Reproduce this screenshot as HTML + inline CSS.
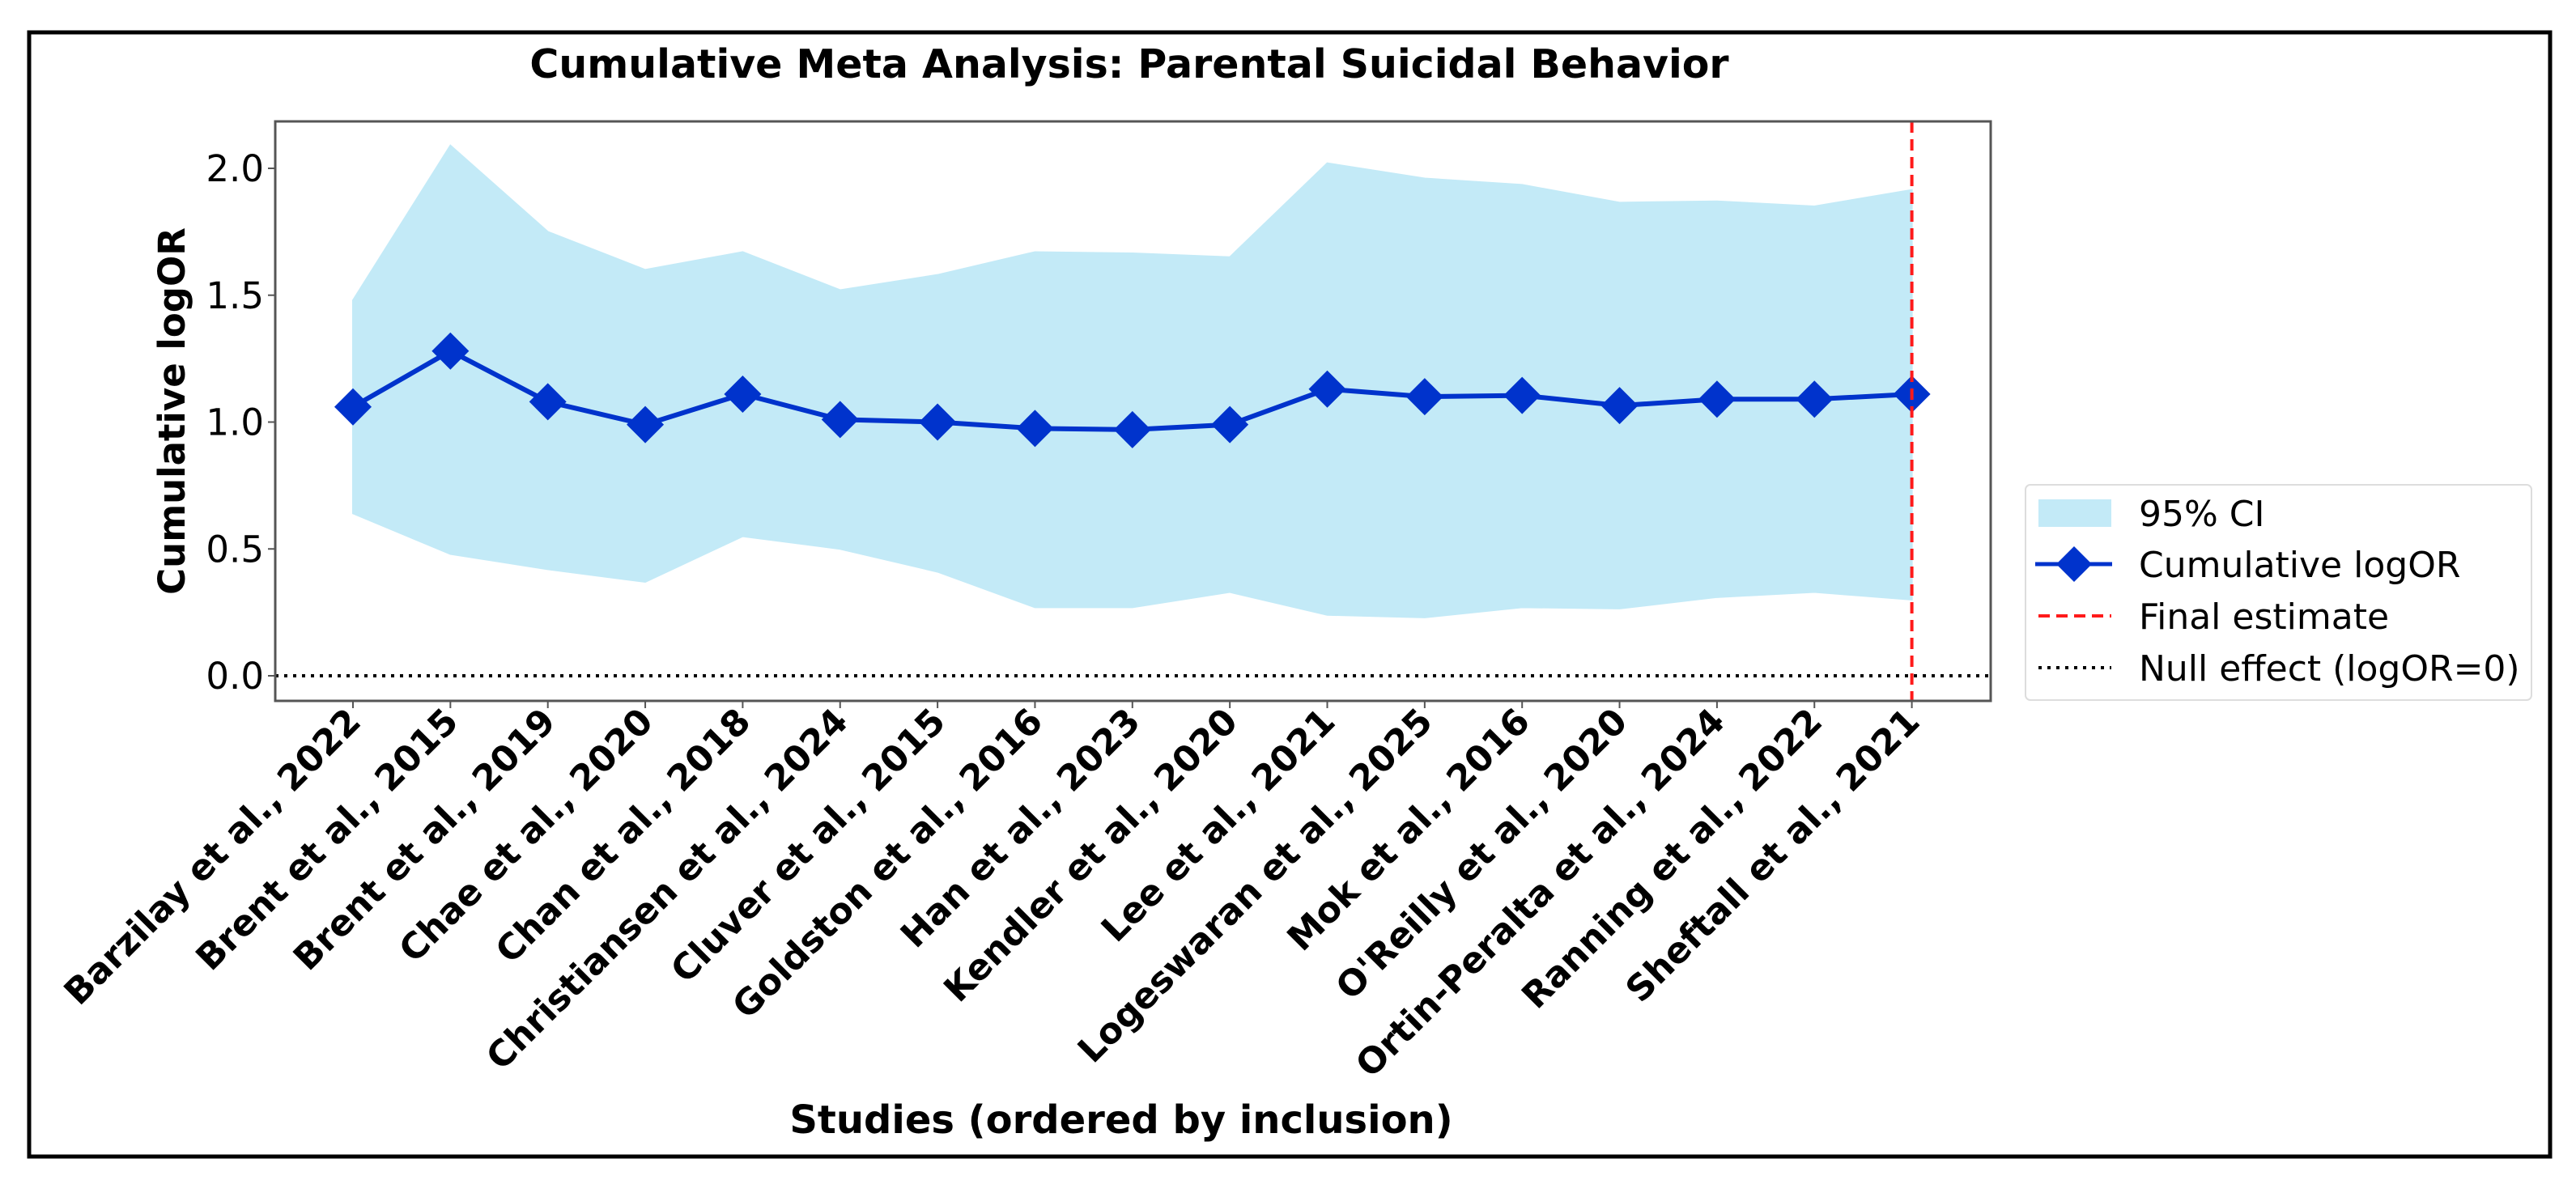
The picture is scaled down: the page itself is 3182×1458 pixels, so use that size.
<!DOCTYPE html>
<html><head><meta charset="utf-8"><style>
html,body{margin:0;padding:0;background:#fff;}
svg{display:block;font-family:"DejaVu Sans","Liberation Sans",sans-serif;}
</style></head><body>
<svg id="chart" width="3182" height="1458" viewBox="0 0 3182 1458">
<rect x="36" y="40" width="3114" height="1389" fill="#fff" stroke="#000" stroke-width="5"/>
<text x="1395" y="96" text-anchor="middle" font-size="49" font-weight="bold">Cumulative Meta Analysis: Parental Suicidal Behavior</text>
<g id="plot"></g>
<text transform="translate(228,508) rotate(-90)" text-anchor="middle" font-size="45" font-weight="bold">Cumulative logOR</text>
<text x="1385" y="1400" text-anchor="middle" font-size="48" font-weight="bold">Studies (ordered by inclusion)</text>
<g>
<rect x="2502" y="599" width="625" height="266" rx="6" fill="#fff" stroke="#ddd" stroke-width="2"/>
<rect x="2518" y="617" width="90" height="34" fill="#c3eaf7"/>
<text x="2642" y="650" font-size="44">95% CI</text>
<line x1="2514" y1="697" x2="2609" y2="697" stroke="#0033cc" stroke-width="5"/>
<path d="M2562,675 L2584,697 L2562,719 L2540,697 Z" fill="#0033cc"/>
<text x="2642" y="713" font-size="44">Cumulative logOR</text>
<line x1="2518" y1="761" x2="2608" y2="761" stroke="#ff1a1a" stroke-width="4" stroke-dasharray="14,8"/>
<text x="2642" y="777" font-size="44">Final estimate</text>
<line x1="2518" y1="825" x2="2608" y2="825" stroke="#000" stroke-width="4" stroke-dasharray="4,7"/>
<text x="2642" y="841" font-size="44">Null effect (logOR=0)</text>
</g>
</svg>
<script>
const studies = ["Barzilay et al., 2022","Brent et al., 2015","Brent et al., 2019","Chae et al., 2020","Chan et al., 2018","Christiansen et al., 2024","Cluver et al., 2015","Goldston et al., 2016","Han et al., 2023","Kendler et al., 2020","Lee et al., 2021","Logeswaran et al., 2025","Mok et al., 2016","O'Reilly et al., 2020","Ortin-Peralta et al., 2024","Ranning et al., 2022","Sheftall et al., 2021"];
const cumLogOR = [1.06,1.28,1.08,0.99,1.11,1.01,1.00,0.975,0.97,0.99,1.13,1.10,1.105,1.065,1.09,1.09,1.11];
const ciUpper = [1.48,2.09,1.75,1.60,1.67,1.52,1.58,1.67,1.665,1.65,2.02,1.96,1.935,1.865,1.87,1.85,1.915];
const ciLower = [0.64,0.48,0.42,0.37,0.55,0.50,0.41,0.27,0.27,0.33,0.24,0.23,0.27,0.265,0.31,0.33,0.30];
const yTicks = [0.0,0.5,1.0,1.5,2.0];
const yTickLabels = ["0.0","0.5","1.0","1.5","2.0"];
const finalIndex = 16;

const NS="http://www.w3.org/2000/svg";
const L=340,R=2459,T=150,B=866;
const x0=436, xStep=120.35;
function xs(i){return x0+i*xStep;}
function ys(v){return 835-v*313.5;}
const g=document.getElementById('plot');
function mk(tag,attrs,parent){const e=document.createElementNS(NS,tag);for(const k in attrs)e.setAttribute(k,attrs[k]);(parent||g).appendChild(e);return e;}

let d="";
ciUpper.forEach((v,i)=>{d+=(i?"L":"M")+xs(i)+","+ys(v);});
for(let i=ciLower.length-1;i>=0;i--) d+="L"+xs(i)+","+ys(ciLower[i]);
const band=mk('path',{d:d+"Z",fill:"#c3eaf7",stroke:"#c3eaf7","stroke-width":2});



const nl=mk('line',{x1:L,x2:R,y1:ys(0),y2:ys(0),stroke:"#000","stroke-width":4,"stroke-dasharray":"4,7"});



const pts=cumLogOR.map((v,i)=>xs(i)+","+ys(v)).join(" ");
const pl=mk('polyline',{points:pts,fill:"none",stroke:"#0033cc","stroke-width":6});


cumLogOR.forEach((v,i)=>{
  const cx=xs(i),cy=ys(v),s=23;
  const m=mk('path',{d:`M${cx},${cy-s} L${cx+s},${cy} L${cx},${cy+s} L${cx-s},${cy} Z`,fill:"#0033cc"});
  
  
});

const fl=mk('line',{x1:xs(finalIndex),x2:xs(finalIndex),y1:T,y2:B,stroke:"#ff1a1a","stroke-width":4,"stroke-dasharray":"14,8"});



const fr=mk('rect',{x:L,y:T,width:R-L,height:B-T,fill:"none",stroke:"#555","stroke-width":3});



yTicks.forEach((v,i)=>{
  const y=ys(v);
  const t=mk('line',{x1:L-9,x2:L,y1:y,y2:y,stroke:"#555","stroke-width":2});
  
  
  const tx=mk('text',{x:L-14,y:y+16,"text-anchor":"end","font-size":45});
  tx.textContent=yTickLabels[i];
  
  
});

studies.forEach((s,i)=>{
  const x=xs(i);
  const t=mk('line',{x1:x,x2:x,y1:B,y2:B+9,stroke:"#555","stroke-width":2});
  
  
  const tx=mk('text',{transform:`translate(${x+12},${B+28}) rotate(-45)`,"text-anchor":"end","font-size":44,"font-weight":"bold"});
  tx.textContent=s;
  
  
});
</script>
</body></html>
